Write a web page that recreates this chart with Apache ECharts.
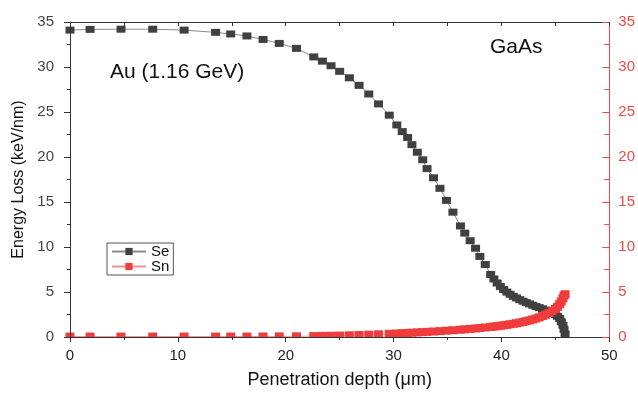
<!DOCTYPE html>
<html>
<head>
<meta charset="utf-8">
<script src="https://cdn.jsdelivr.net/npm/echarts@6/dist/echarts.min.js"></script>
<style>html,body{margin:0;padding:0;background:#fff;overflow:hidden;}#c{width:638px;height:394px;}</style>
</head>
<body>
<div id="c"></div>
<script>
const depth = [0, 1.86, 4.73, 7.67, 10.58, 13.5, 14.9, 16.4, 17.9, 19.4, 21.0, 22.6, 23.4, 24.2, 25.0, 25.9, 26.8, 27.7, 28.6, 29.6, 30.3, 30.8, 31.3, 31.7, 32.2, 32.7, 33.1, 33.7, 34.3, 34.9, 35.5, 36.2, 36.6, 37.1, 37.6, 38.0, 38.5, 39.0, 39.3, 39.6, 39.9, 40.2, 40.5, 40.8, 41.1, 41.4, 41.7, 42.0, 42.3, 42.6, 42.9, 43.2, 43.5, 43.8, 44.1, 44.4, 44.7, 45.0, 45.2, 45.4, 45.55, 45.7, 45.8, 45.9];
const se = [34.1, 34.18, 34.2, 34.2, 34.1, 33.85, 33.67, 33.45, 33.06, 32.62, 32.07, 31.12, 30.65, 30.14, 29.52, 28.8, 27.96, 27.0, 25.9, 24.65, 23.56, 22.82, 22.17, 21.37, 20.53, 19.69, 18.71, 17.69, 16.52, 15.18, 13.87, 12.34, 11.54, 10.7, 9.86, 8.95, 8.05, 6.95, 6.45, 6.0, 5.6, 5.28, 4.99, 4.75, 4.52, 4.34, 4.15, 3.98, 3.82, 3.68, 3.53, 3.39, 3.26, 3.13, 2.99, 2.85, 2.7, 2.51, 2.3, 2.05, 1.7, 1.3, 0.85, 0.35];
const sn = [0.05, 0.05, 0.05, 0.05, 0.05, 0.05, 0.05, 0.05, 0.06, 0.07, 0.08, 0.1, 0.12, 0.14, 0.16, 0.19, 0.22, 0.26, 0.3, 0.35, 0.39, 0.42, 0.45, 0.48, 0.51, 0.54, 0.57, 0.61, 0.65, 0.7, 0.75, 0.81, 0.85, 0.9, 0.95, 1.0, 1.06, 1.12, 1.16, 1.2, 1.25, 1.3, 1.35, 1.41, 1.47, 1.53, 1.6, 1.68, 1.76, 1.85, 1.95, 2.06, 2.18, 2.32, 2.48, 2.66, 2.88, 3.12, 3.35, 3.65, 3.95, 4.3, 4.6, 4.75];
const yTicks = {min: 0, max: 35, interval: 5};
const xTicks = {min: 0, max: 50, interval: 10};

const FONT = '"Liberation Sans", Arial, sans-serif';
const chart = echarts.init(document.getElementById('c'), null, {renderer: 'canvas', width: 638, height: 394});
const seData = depth.map((d, i) => [d, se[i]]);
const snData = depth.map((d, i) => [d, sn[i]]);
const dark = '#333333';
const red = '#f03c3c';

chart.setOption({
  animation: false,
  backgroundColor: '#ffffff',
  grid: {left: 70, top: 22, width: 540, height: 321, containLabel: false},
  legend: {
    left: 107, top: 243, orient: 'vertical',
    itemWidth: 34, itemHeight: 9, itemGap: 0,
    padding: [1, 4, 1, 4],
    borderColor: '#555', borderWidth: 1,
    textStyle: {fontFamily: FONT, fontSize: 15, color: '#111'},
    data: ['Se', 'Sn']
  },
  xAxis: [{
    type: 'value', position: 'bottom', min: xTicks.min, max: xTicks.max, interval: xTicks.interval, z: 10,
    name: 'Penetration depth (μm)', nameLocation: 'middle', nameGap: 34,
    nameTextStyle: {fontFamily: FONT, fontSize: 18, color: '#111'},
    axisLine: {onZero: false, lineStyle: {color: dark, width: 1}},
    axisTick: {inside: false, length: 5, lineStyle: {color: dark}},
    minorTick: {show: true, splitNumber: 2, length: 3, lineStyle: {color: dark}},
    axisLabel: {fontFamily: FONT, fontSize: 15, color: '#222', margin: 11},
    splitLine: {show: false}
  }, {
    type: 'value', position: 'top', min: xTicks.min, max: xTicks.max, interval: xTicks.interval, z: 10,
    axisLine: {onZero: false, lineStyle: {color: dark, width: 1}},
    axisTick: {inside: true, length: 4, lineStyle: {color: dark}},
    minorTick: {show: true, splitNumber: 2, length: 4, lineStyle: {color: dark}},
    axisLabel: {show: false},
    splitLine: {show: false}
  }],
  yAxis: [{
    type: 'value', position: 'left', min: yTicks.min, max: yTicks.max, interval: yTicks.interval, z: 10,
    name: 'Energy Loss (keV/nm)', nameLocation: 'middle', nameGap: 41,
    nameTextStyle: {fontFamily: FONT, fontSize: 16, color: '#111'},
    axisLine: {show: true, onZero: false, lineStyle: {color: dark, width: 1}},
    axisTick: {show: true, inside: false, length: 6, lineStyle: {color: dark}},
    minorTick: {show: true, splitNumber: 2, length: 3, lineStyle: {color: dark}},
    axisLabel: {fontFamily: FONT, fontSize: 15, color: '#444', margin: 16},
    splitLine: {show: false}
  }, {
    type: 'value', position: 'right', min: yTicks.min, max: yTicks.max, interval: yTicks.interval, z: 10,
    axisLine: {show: true, onZero: false, lineStyle: {color: '#f04848', width: 1}},
    axisTick: {show: true, inside: true, length: 7, lineStyle: {color: '#f04848'}},
    minorTick: {show: true, splitNumber: 2, length: 5, lineStyle: {color: '#f04848'}},
    axisLabel: {fontFamily: FONT, fontSize: 15, color: '#f04848', margin: 9},
    splitLine: {show: false}
  }],
  series: [{
    name: 'Se', type: 'line', xAxisIndex: 0, yAxisIndex: 0, data: seData,
    symbol: 'rect', symbolSize: [9, 7],
    itemStyle: {color: '#404040'},
    lineStyle: {color: '#8a8a8a', width: 1},
    z: 2, clip: false
  }, {
    name: 'Sn', type: 'line', xAxisIndex: 0, yAxisIndex: 1, data: snData,
    symbol: 'rect', symbolSize: [9, 8],
    itemStyle: {color: red},
    lineStyle: {color: '#f79090', width: 1},
    z: 3, clip: false
  }]
});

// white mask just below the x axis line so markers sitting on it appear cut off, as in the reference
const a = chart.convertToPixel({xAxisIndex: 0, yAxisIndex: 0}, [0, 0]);
const b = chart.convertToPixel({xAxisIndex: 0, yAxisIndex: 0}, [50, 0]);
chart.setOption({
  graphic: [{
    type: 'text', left: 110, top: 62, z: 20,
    style: {text: 'Au (1.16 GeV)', fontSize: 21, fontFamily: FONT, fill: '#111'}
  }, {
    type: 'text', left: 490, top: 37, z: 20,
    style: {text: 'GaAs', fontSize: 21, fontFamily: FONT, fill: '#111'}
  }, {
    type: 'rect', z: 5, silent: true,
    shape: {x: a[0] - 6, y: a[1] + 0.5, width: b[0] - a[0] + 12, height: 6},
    style: {fill: '#ffffff'}
  }]
});
</script>
</body>
</html>
